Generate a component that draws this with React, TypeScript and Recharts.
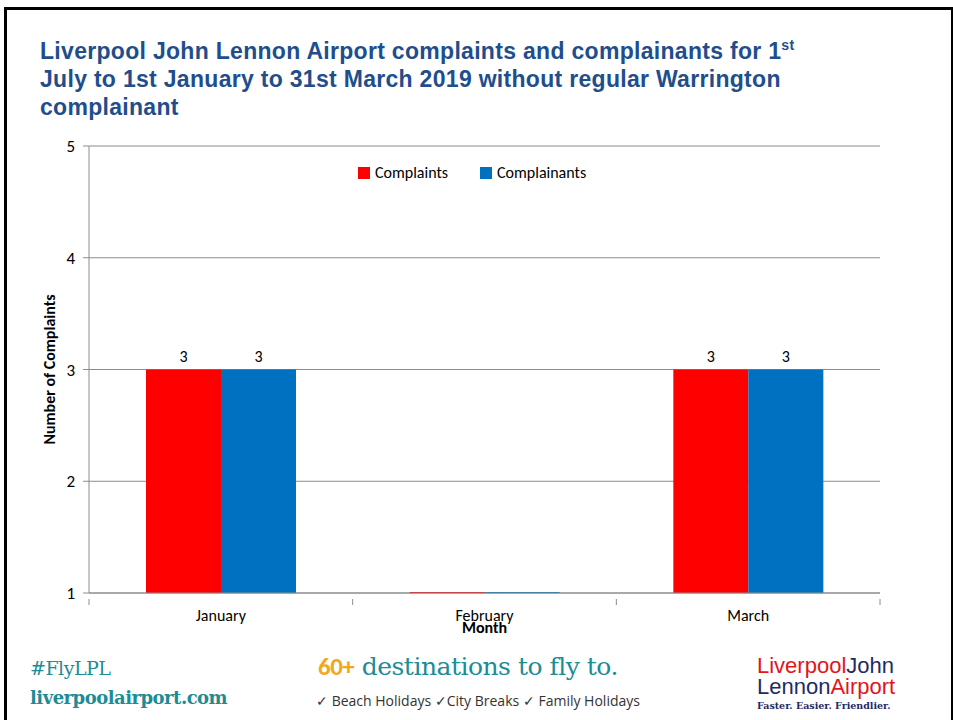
import React from "react";
import { BarChart, Bar, XAxis, YAxis, CartesianGrid, LabelList, Label } from "recharts";

const months = ["January", "February", "March"];
const complaints = [3, 0, 3];
const complainants = [3, 0, 3];
const yTicks = [1, 2, 3, 4, 5];

const data = months.map((m, i) => ({
  month: m,
  Complaints: complaints[i],
  Complainants: complainants[i],
}));

const bodyFont = "Carlito, 'Liberation Sans', Arial, sans-serif";
const navy = "#1F4E8C";
const teal = "#1C8C96";
const axisGrey = "#8C8C8C";

// Excel draws a hairline at the axis for values under the axis minimum
const ClampedBar = (props: any) => {
  const { x, y, width, height, fill } = props;
  if (height > 0) return <rect x={x} y={y} width={width} height={height} fill={fill} />;
  const base = y + height;
  return <rect x={x} y={base - 1} width={width} height={2} fill={fill} />;
};

// month label with tick marks between categories, like Excel
const MonthTick = (props: any) => {
  const { x, y, payload, index } = props;
  const half = payload.offset || 0;
  return (
    <g>
      <line x1={x - half} x2={x - half} y1={y - 8} y2={y - 2} stroke={axisGrey} />
      {index === months.length - 1 && <line x1={x + half} x2={x + half} y1={y - 8} y2={y - 2} stroke={axisGrey} />}
      <text x={x} y={y + 14} textAnchor="middle" fontFamily={bodyFont} fontSize={16} fill="#000">
        {payload.value}
      </text>
    </g>
  );
};

export default function App() {
  return (
    <div style={{ position: "absolute", left: 0, top: 0, width: 953, height: 720, background: "#fff", overflow: "hidden" }}>
      <div style={{ position: "absolute", left: 4, top: 7, width: 944, height: 760, border: "3px solid #000" }} />
      <div
        style={{
          position: "absolute",
          left: 40,
          top: 37,
          width: 880,
          fontFamily: "'Liberation Sans', Arial, sans-serif",
          fontWeight: 700,
          fontSize: 23,
          letterSpacing: 0.3,
          lineHeight: "28px",
          color: navy,
        }}
      >
        Liverpool John Lennon Airport complaints and complainants for 1<sup style={{ fontSize: 14, lineHeight: 0 }}>st</sup>
        <br />
        July to 1st January to 31st March 2019 without regular Warrington
        <br />
        complainant
      </div>

      <div style={{ position: "absolute", left: 0, top: 0 }}>
        <BarChart
          width={953}
          height={720}
          data={data}
          margin={{ top: 146, right: 73, bottom: 87, left: 19 }}
          barCategoryGap={57}
          barGap={0}
        >
          <CartesianGrid vertical={false} stroke={axisGrey} />
          <XAxis
            dataKey="month"
            tickLine={false}
            axisLine={{ stroke: axisGrey }}
            tick={<MonthTick />}
            height={40}
            tickMargin={8}
            interval={0}
          >
            <Label value="Month" position="insideBottom" offset={0} style={{ fontFamily: bodyFont, fontSize: 16, fontWeight: 700, fill: "#000" }} />
          </XAxis>
          <YAxis
            domain={[1, 5]}
            ticks={yTicks}
            allowDataOverflow
            width={70}
            tickLine={{ stroke: axisGrey }}
            tickSize={6}
            axisLine={{ stroke: axisGrey }}
            tick={{ fontFamily: bodyFont, fontSize: 17, fill: "#000" }}
            tickMargin={8}
          >
            <Label
              value="Number of Complaints"
              angle={-90}
              position="insideLeft"
              offset={30}
              style={{ textAnchor: "middle", fontFamily: bodyFont, fontSize: 16, fontWeight: 700, fill: "#000" }}
            />
          </YAxis>
          <Bar dataKey="Complaints" fill="#FF0000" isAnimationActive={false} shape={ClampedBar}>
            <LabelList dataKey="Complaints" position="top" offset={8} fontSize={16} fontFamily={bodyFont} fill="#000" formatter={(v: any) => (v > 0 ? v : "")} />
          </Bar>
          <Bar dataKey="Complainants" fill="#0070C0" isAnimationActive={false} shape={ClampedBar}>
            <LabelList dataKey="Complainants" position="top" offset={8} fontSize={16} fontFamily={bodyFont} fill="#000" formatter={(v: any) => (v > 0 ? v : "")} />
          </Bar>
        </BarChart>
      </div>

      <div style={{ position: "absolute", left: 358, top: 163, display: "flex", fontFamily: bodyFont, fontSize: 16, color: "#000" }}>
        <span style={{ display: "flex", alignItems: "center", marginRight: 32 }}>
          <span style={{ width: 12, height: 12, background: "#FF0000", marginRight: 5 }} />
          Complaints
        </span>
        <span style={{ display: "flex", alignItems: "center" }}>
          <span style={{ width: 12, height: 12, background: "#0070C0", marginRight: 5 }} />
          Complainants
        </span>
      </div>

      <div style={{ position: "absolute", left: 30, top: 657, fontFamily: "'DejaVu Serif', serif", fontSize: 19, color: teal, letterSpacing: -0.5 }}>
        #FlyLPL
      </div>
      <div style={{ position: "absolute", left: 30, top: 687, fontFamily: "'DejaVu Serif', serif", fontWeight: 700, fontSize: 18, color: teal, letterSpacing: -0.5 }}>
        liverpoolairport.com
      </div>
      <div style={{ position: "absolute", left: 318, top: 651, fontFamily: "'DejaVu Serif', serif", fontSize: 25, color: teal, letterSpacing: -0.5 }}>
        <span style={{ color: "#F0A81C", fontWeight: 700, fontFamily: bodyFont }}>60+</span> destinations to fly to.
      </div>
      <div style={{ position: "absolute", left: 316, top: 691, fontFamily: "'Liberation Sans Narrow', 'Open Sans', sans-serif", fontSize: 14, color: "#333" }}>
        ✓ Beach Holidays ✓City Breaks ✓ Family Holidays
      </div>
      <div style={{ position: "absolute", left: 757, top: 655, fontFamily: "'Liberation Sans', sans-serif", fontSize: 22, lineHeight: "21px" }}>
        <div>
          <span style={{ color: "#E3151A" }}>Liverpool</span>
          <span style={{ color: "#1E2B63" }}>John</span>
        </div>
        <div>
          <span style={{ color: "#1E2B63" }}>Lennon</span>
          <span style={{ color: "#E3151A" }}>Airport</span>
        </div>
        <div style={{ fontFamily: "'DejaVu Serif', serif", fontWeight: 700, fontSize: 9.5, color: "#1E2B63", lineHeight: "14px", marginTop: 2 }}>
          Faster. Easier. Friendlier.
        </div>
      </div>
    </div>
  );
}
